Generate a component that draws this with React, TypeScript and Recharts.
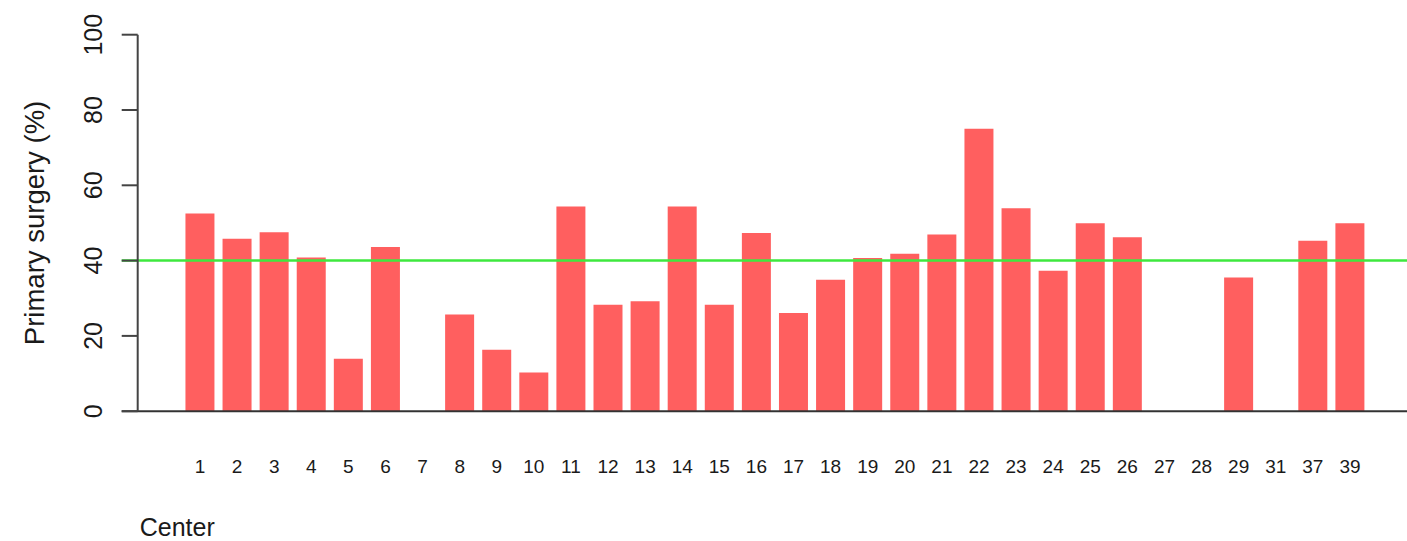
import React from "react";
import { BarChart, Bar, XAxis, YAxis, ReferenceLine } from "recharts";

const centers = ["1","2","3","4","5","6","7","8","9","10","11","12","13","14","15","16","17","18","19","20","21","22","23","24","25","26","27","28","29","31","37","39"];
const primarySurgery = [52.5,45.8,47.5,40.8,13.9,43.6,0,25.7,16.3,10.3,54.4,28.3,29.2,54.4,28.3,47.3,26.1,34.9,40.7,41.8,46.9,75.0,53.9,37.3,49.9,46.2,0,0,35.5,0,45.3,49.9];
const yTicks = [0, 20, 40, 60, 80, 100];
const referenceValue = 40;

const data = centers.map((c, i) => ({ center: c, value: primarySurgery[i] }));

const FONT = "'Liberation Sans', Arial, Helvetica, sans-serif";
const INK = "#1a1a1a";

const XTick = (props: any) => {
  const { x, y, payload } = props;
  return (
    <text x={x} y={y + 55} textAnchor="middle" dominantBaseline="central" fontSize={19} fill={INK} fontFamily={FONT}>
      {payload.value}
    </text>
  );
};

const YTick = (props: any) => {
  const { x, y, payload } = props;
  return (
    <text x={x} y={y} transform={`rotate(-90 ${x} ${y})`} textAnchor="middle" dominantBaseline="central" fontSize={25} fill={INK} fontFamily={FONT}>
      {payload.value}
    </text>
  );
};

const HLine = (color: string, width: number) => (props: any) => {
  const { x1, y1, x2, y2 } = props;
  return <line x1={x1 - 16} y1={y1} x2={x2} y2={y2} stroke={color} strokeWidth={width} />;
};

const YTitle = (props: any) => {
  const vb = props.viewBox;
  const cx = 35;
  const cy = vb.y + vb.height / 2;
  return (
    <text x={cx} y={cy} transform={`rotate(-90 ${cx} ${cy})`} textAnchor="middle" dominantBaseline="central" fontSize={27.5} fill={INK} fontFamily={FONT}>
      Primary surgery (%)
    </text>
  );
};

const XTitle = (props: any) => {
  const vb = props.viewBox;
  return (
    <text x={vb.x + 2} y={vb.y + 116} textAnchor="start" dominantBaseline="central" fontSize={25} fill={INK} fontFamily={FONT}>
      Center
    </text>
  );
};

export default function App() {
  return (
    <div style={{ position: "absolute", left: 0, top: 0, width: 1407, height: 541, background: "#fff" }}>
      <BarChart width={1407} height={541} data={data} margin={{ top: 34.7, right: 0, bottom: 69.8, left: 0 }} barSize={29}>
        <XAxis
          dataKey="center"
          height={60}
          padding={{ left: 43.75, right: 38.5 }}
          axisLine={false}
          tickLine={false}
          tickSize={0}
          tickMargin={0}
          interval={0}
          tick={<XTick />}
          label={<XTitle />}
        />
        <YAxis
          width={137.7}
          domain={[0, 100]}
          ticks={yTicks}
          interval={0}
          axisLine={{ stroke: "#444", strokeWidth: 2 }}
          tickLine={{ stroke: "#444", strokeWidth: 2 }}
          tickSize={16}
          tickMargin={29}
          tick={<YTick />}
          label={<YTitle />}
        />
        <Bar dataKey="value" fill="#ff5f5f" isAnimationActive={false} />
        <ReferenceLine y={0} ifOverflow="visible" shape={HLine("#333", 2)} />
        <ReferenceLine y={referenceValue} ifOverflow="visible" shape={HLine("#3ee83e", 2.5)} />
      </BarChart>
    </div>
  );
}
